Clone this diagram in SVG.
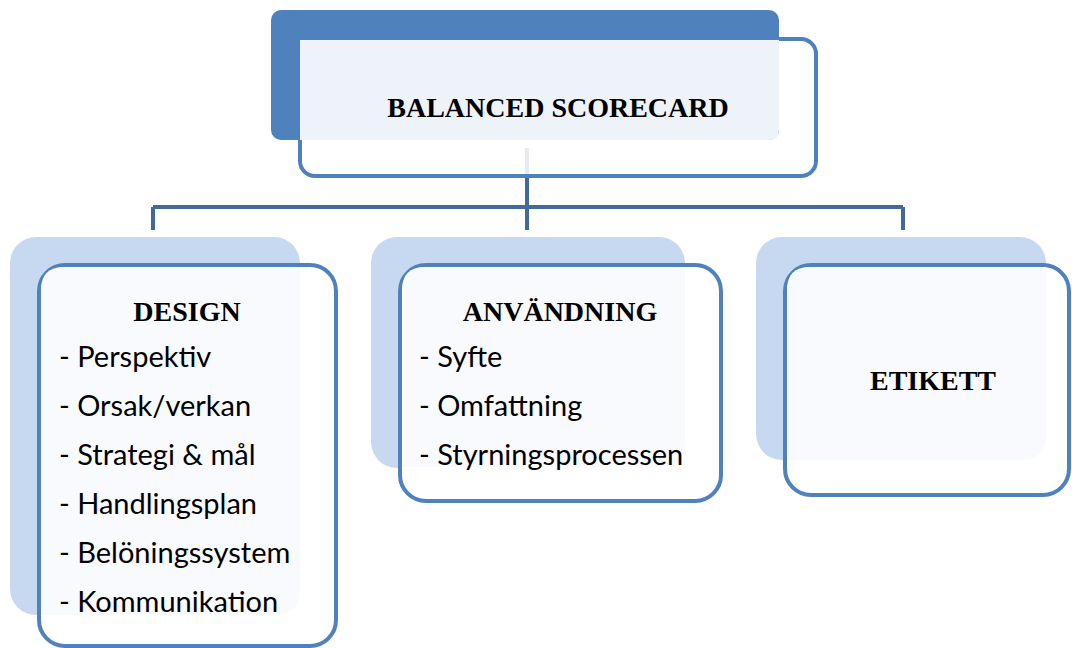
<svg xmlns="http://www.w3.org/2000/svg" width="1072" height="648" viewBox="0 0 1072 648">
<style>
.back{fill:#C6D9F1}
.front{fill:#FFFFFF;stroke:#4F81BD;stroke-width:4}
.veil{fill:#F8FAFE}
.title{font-family:"Liberation Serif",serif;font-weight:bold;font-size:28px;fill:#000;text-anchor:middle}
.item{font-family:Lato,"Liberation Sans",sans-serif;font-size:29px;fill:#000}
.conn{stroke:#41699A;stroke-width:4;fill:none}
</style>
<rect width="1072" height="648" fill="#FFFFFF"/>
<g id="connectors">
<line x1="527" y1="148" x2="527" y2="176" stroke="#E6EAF2" stroke-width="4"/>
<path class="conn" d="M527 176 V230 M153 207 H903 M153 207 V230 M903 207 V230"/>
</g>
<g id="node-balanced-scorecard">
<rect x="271" y="10" width="508" height="130" rx="10" fill="#4F81BD"/>
<rect class="front" x="300" y="39" width="516" height="137" rx="15" fill-opacity="0"/>
<path d="M300 40 H779 V130 Q779 140 769 140 H300 Z" fill="#EEF3FA"/>
<text class="title" x="558" y="117">BALANCED SCORECARD</text>
</g>
<g id="node-design">
<rect class="back" x="10" y="237" width="290" height="378" rx="26"/>
<rect class="front" x="39" y="265" width="297" height="381" rx="26"/>
<path d="M41 290 Q41 267 64 267 H300 V590 Q300 615 275 615 H41 Z" class="veil"/>
<text class="title" x="187" y="321">DESIGN</text>
<text class="item" x="59" y="367">- Perspektiv</text>
<text class="item" x="59" y="416">- Orsak/verkan</text>
<text class="item" x="59" y="465">- Strategi &amp; mål</text>
<text class="item" x="59" y="514">- Handlingsplan</text>
<text class="item" x="59" y="563">- Belöningssystem</text>
<text class="item" x="59" y="612">- Kommunikation</text>
</g>
<g id="node-anvandning">
<rect class="back" x="371" y="237" width="314" height="231" rx="26"/>
<rect class="front" x="400" y="265" width="321" height="236" rx="26"/>
<path d="M402 290 Q402 267 425 267 H685 V442 Q685 467 660 467 H402 Z" class="veil"/>
<text class="title" x="560" y="321">ANVÄNDNING</text>
<text class="item" x="419" y="367">- Syfte</text>
<text class="item" x="419" y="416">- Omfattning</text>
<text class="item" x="419" y="465">- Styrningsprocessen</text>
</g>
<g id="node-etikett">
<rect class="back" x="756" y="237" width="290" height="223" rx="26"/>
<rect class="front" x="785" y="265" width="284" height="230" rx="26"/>
<path d="M787 290 Q787 267 810 267 H1046 V435 Q1046 460 1021 460 H787 Z" class="veil"/>
<text class="title" x="933" y="390">ETIKETT</text>
</g>
</svg>
